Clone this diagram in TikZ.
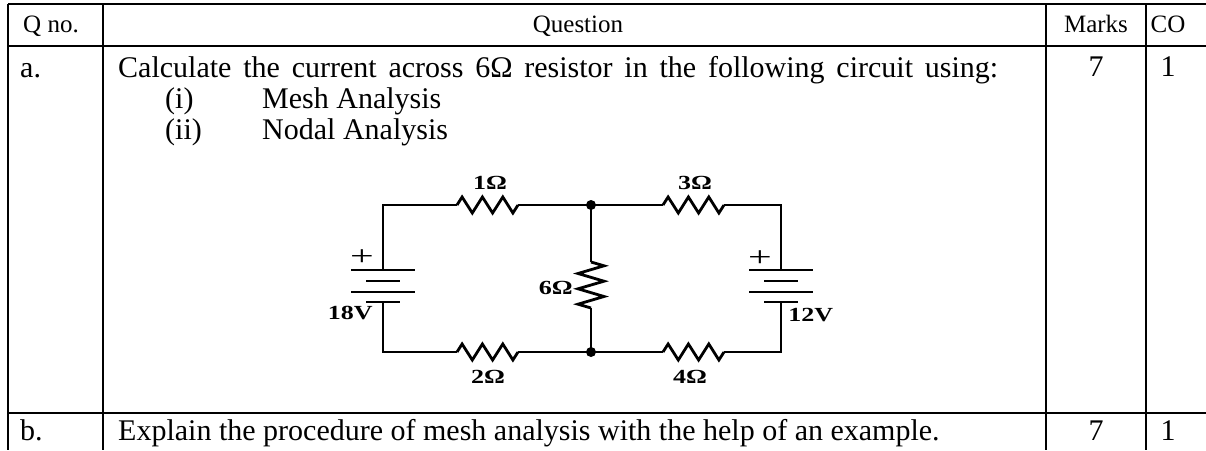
\documentclass[tikz,border=0pt]{standalone}
\usepackage{fontspec}
\setmainfont{Liberation Serif}
\usetikzlibrary{positioning, calc}

\begin{document}
\begin{tikzpicture}[x=1pt, y=-1pt,
	rule/.style={line width=2.6pt},
	wire/.style={line width=2.8pt, line join=miter},
	txt/.style={font=\fontsize{30}{34}\selectfont, anchor=base west, inner sep=0},
	hdr/.style={font=\fontsize{25}{28}\selectfont, anchor=base, inner sep=0},
	num/.style={font=\fontsize{30}{34}\selectfont, anchor=base, inner sep=0},
	lbl/.style={font=\fontsize{20}{20}\selectfont\bfseries, inner sep=0, xscale=1.3},
	sign/.style={font=\fontsize{28}{28}\selectfont, inner sep=0, xscale=1.5},
	junction/.style={circle, fill, inner sep=0, minimum size=10pt},
	pics/hres/.style={code={
		\draw[wire] (0,0) -- (5.1,-8) -- (15.3,8) -- (25.4,-8) -- (35.6,8) -- (45.8,-8) -- (55.9,8) -- (61,0);}},
	pics/vres/.style={code={
		\draw[wire] (0,0) -- (13,3.8) -- (-13,11.5) -- (13,19.2) -- (-13,26.8) -- (13,34.5) -- (-13,42.2) -- (0,46);}}
	]
	\useasboundingbox (0,0) rectangle (1206,450);

	% Table rules
	\draw[rule] (8,4) -- (1206,4);
	\draw[rule] (8,46) -- (1206,46);
	\draw[rule] (8,413) -- (1206,413);
	\foreach \x in {8, 103, 1046, 1146} {
		\draw[rule] (\x,4) -- (\x,450);
	}

	% Header row
	\node[txt, font=\fontsize{25}{28}\selectfont] (qno) at (23,32) {Q no.};
	\node[hdr] (question) at (578,32) {Question};
	\node[hdr] (marks) at (1096,32) {Marks};
	\node[hdr] (co) at (1168,32) {CO};

	% Row a
	\node[txt] (a) at (20,77) {a.};
	\node[txt] (qa) at (118,77) {\makebox[880pt][s]{Calculate the current across 6Ω resistor in the following circuit using:}};
	\node[txt] (i) at (165,108) {(i)};
	\node[txt] (mesh) at (262,108) {Mesh Analysis};
	\node[txt] (ii) at (165,139) {(ii)};
	\node[txt] (nodal) at (262,139) {Nodal Analysis};
	\node[num] (marka) at (1096,76) {7};
	\node[num] (coa) at (1168,76) {1};

	% Row b
	\node[txt] (b) at (20,440) {b.};
	\node[txt] (qb) at (118,440) {Explain the procedure of mesh analysis with the help of an example.};
	\node[num] (markb) at (1096,440) {7};
	\node[num] (cob) at (1168,440) {1};

	%% Circuit
	\coordinate (tl) at (383,205);
	\coordinate (bl) at (383,352);
	\coordinate (jt) at (591,205);
	\coordinate (jb) at (591,352);
	\coordinate (tr) at (781,205);
	\coordinate (br) at (781,352);

	% Resistors
	\coordinate (r1a) at (457,205); \coordinate (r1b) at (518,205);
	\coordinate (r2a) at (457,352); \coordinate (r2b) at (518,352);
	\coordinate (r3a) at (663,205); \coordinate (r3b) at (724,205);
	\coordinate (r4a) at (663,352); \coordinate (r4b) at (724,352);
	\coordinate (r6a) at (591,262); \coordinate (r6b) at (591,308);
	\pic at (r1a) {hres};
	\pic at (r2a) {hres};
	\pic at (r3a) {hres};
	\pic at (r4a) {hres};
	\pic at (r6a) {vres};

	% Batteries
	\foreach \x/\n in {383/left, 781/right} {
		\coordinate (\n p) at (\x,270);
		\coordinate (\n n) at (\x,302);
		\draw[wire] ($(\n p)+(-32,0)$) -- ($(\n p)+(32,0)$);
		\draw[wire] ($(\n p)+(-17,11)$) -- ($(\n p)+(17,11)$);
		\draw[wire] ($(\n p)+(-32,22)$) -- ($(\n p)+(32,22)$);
		\draw[wire] ($(\n n)+(-17,0)$) -- ($(\n n)+(17,0)$);
	}

	% Wires
	\draw[wire] (leftp) -- (tl) -- (r1a);
	\draw[wire] (r1b) -- (jt) -- (r3a);
	\draw[wire] (r3b) -- (tr) -- (rightp);
	\draw[wire] (leftn) -- (bl) -- (r2a);
	\draw[wire] (r2b) -- (jb) -- (r4a);
	\draw[wire] (r4b) -- (br) -- (rightn);
	\draw[wire] (jt) -- (r6a);
	\draw[wire] (r6b) -- (jb);
	\node[junction] at (jt) {};
	\node[junction] at (jb) {};

	% Labels
	\node[lbl] (l1) at (490,183) {1Ω};
	\node[lbl] (l2) at (488,377) {2Ω};
	\node[lbl] (l3) at (695,183) {3Ω};
	\node[lbl] (l4) at (690,377) {4Ω};
	\node[lbl, anchor=east] (l6) at (573,288) {6Ω};
	\node[lbl, anchor=east] (v18) at (373,313) {18V};
	\node[lbl, anchor=west] (v12) at (788,315) {12V};
	\node[sign] (pl) at (362,258) {+};
	\node[sign] (pr) at (760,259) {+};
\end{tikzpicture}
\end{document}
